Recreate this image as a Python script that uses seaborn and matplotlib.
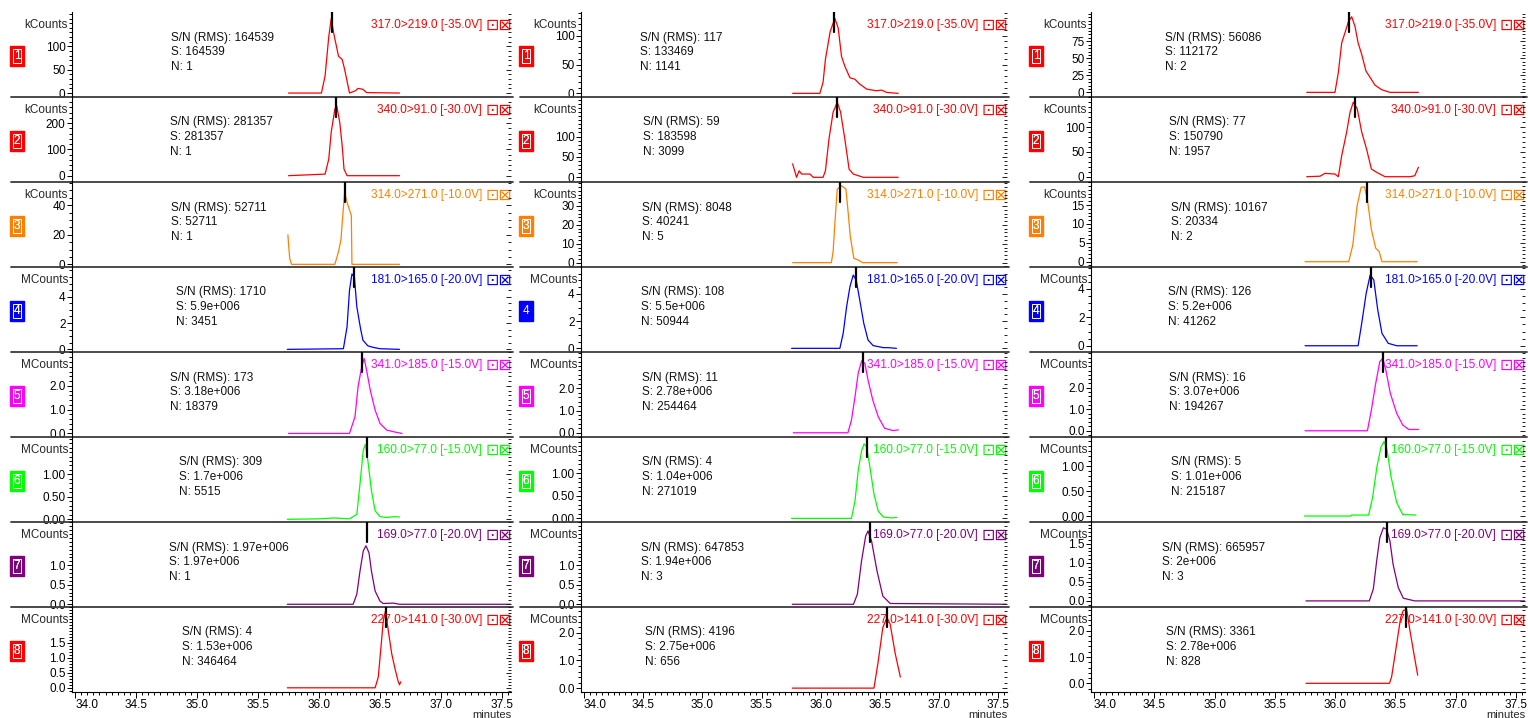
import matplotlib
matplotlib.use("Agg")
import matplotlib.pyplot as plt
import seaborn as sns
import numpy as np
from matplotlib.lines import Line2D
from matplotlib.ticker import AutoMinorLocator, MultipleLocator, FormatStrFormatter

sns.set_style("ticks")
plt.rcParams["font.family"] = ["Liberation Sans", "DejaVu Sans"]

# ---------------- data ----------------
CHANNELS = ["317.0>219.0 [-35.0V]", "340.0>91.0 [-30.0V]", "314.0>271.0 [-10.0V]",
            "181.0>165.0 [-20.0V]", "341.0>185.0 [-15.0V]", "160.0>77.0 [-15.0V]",
            "169.0>77.0 [-20.0V]", "227.0>141.0 [-30.0V]"]
UNITS = ["kCounts", "kCounts", "kCounts", "MCounts", "MCounts", "MCounts", "MCounts", "MCounts"]
COLORS = ["#FF0000", "#FF0000", "#FF8000", "#0000FF", "#FF00FF", "#00FF00", "#800080", "#FF0000"]

SN_1 = ["164539", "281357", "52711", "1710", "173", "309", "1.97e+006", "4"]
S_1 = ["164539", "281357", "52711", "5.9e+006", "3.18e+006", "1.7e+006", "1.97e+006", "1.53e+006"]
N_1 = ["1", "1", "1", "3451", "18379", "5515", "1", "346464"]
SN_2 = ["117", "59", "8048", "108", "11", "4", "647853", "4196"]
S_2 = ["133469", "183598", "40241", "5.5e+006", "2.78e+006", "1.04e+006", "1.94e+006", "2.75e+006"]
N_2 = ["1141", "3099", "5", "50944", "254464", "271019", "3", "656"]
SN_3 = ["56086", "77", "10167", "126", "16", "5", "665957", "3361"]
S_3 = ["112172", "150790", "20334", "5.2e+006", "3.07e+006", "1.01e+006", "2e+006", "2.78e+006"]
N_3 = ["2", "1957", "2", "41262", "194267", "215187", "3", "828"]

# peak apex markers (minutes)
PEAK_1 = [36.107, 36.14, 36.21, 36.287, 36.35, 36.39, 36.39, 36.55]
PEAK_2 = [36.11, 36.14, 36.16, 36.30, 36.36, 36.39, 36.415, 36.56]
PEAK_3 = [36.117, 36.164, 36.26, 36.30, 36.395, 36.423, 36.43, 36.585]

# y tick values / labels per column
YT_1 = [[0, 50, 100], [0, 100, 200], [0, 20, 40], [0, 2, 4], [0, 1, 2], [0, 0.5, 1], [0, 0.5, 1], [0, 0.5, 1, 1.5]]
YL_1 = [["0", "50", "100"], ["0", "100", "200"], ["0", "20", "40"], ["0", "2", "4"], ["0.0", "1.0", "2.0"],
        ["0.00", "0.50", "1.00"], ["0.0", "0.5", "1.0"], ["0.0", "0.5", "1.0", "1.5"]]
YT_2 = [[0, 50, 100], [0, 50, 100], [0, 10, 20, 30], [0, 2, 4], [0, 1, 2], [0, 0.5, 1], [0, 0.5, 1], [0, 1, 2]]
YL_2 = [["0", "50", "100"], ["0", "50", "100"], ["0", "10", "20", "30"], ["0", "2", "4"], ["0.0", "1.0", "2.0"],
        ["0.00", "0.50", "1.00"], ["0.0", "0.5", "1.0"], ["0.0", "1.0", "2.0"]]
YT_3 = [[0, 25, 50, 75], [0, 50, 100], [0, 5, 10, 15], [0, 2, 4], [0, 1, 2], [0, 0.5, 1], [0, 0.5, 1, 1.5], [0, 1, 2]]
YL_3 = [["0", "25", "50", "75"], ["0", "50", "100"], ["0", "5", "10", "15"], ["0", "2", "4"], ["0.0", "1.0", "2.0"],
        ["0.00", "0.50", "1.00"], ["0.0", "0.5", "1.0", "1.5"], ["0.0", "1.0", "2.0"]]
XTICKS = [34.0, 34.5, 35.0, 35.5, 36.0, 36.5, 37.0, 37.5]

# ---- traces, column 1 ----
t11 = [35.75, 36.02, 36.05, 36.08, 36.10, 36.12, 36.16, 36.19, 36.21, 36.25, 36.30, 36.32, 36.36, 36.39, 36.66]
v11 = [0, 0, 37, 121, 160, 129, 79, 72, 51, 0, 5, 10, 8, 1, 0]
t12 = [35.75, 36.05, 36.08, 36.10, 36.13, 36.145, 36.17, 36.19, 36.205, 36.23, 36.66]
v12 = [0, 6, 63, 165, 253, 266, 203, 114, 25, 0, 0]
t13 = [35.745, 35.75, 35.76, 35.775, 36.13, 36.16, 36.18, 36.19, 36.21, 36.23, 36.265, 36.27, 36.66]
v13 = [20, 14, 4, 0, 0, 8.6, 16.6, 28, 48.6, 41.8, 33, 0, 0]
t14 = [35.74, 36.20, 36.23, 36.25, 36.27, 36.29, 36.31, 36.34, 36.36, 36.40, 36.445, 36.50, 36.66]
v14 = [0, 0.05, 1.72, 4.5, 5.73, 5.5, 3.24, 1.6, 0.7, 0.27, 0.15, 0.05, 0]
t15 = [35.75, 36.25, 36.295, 36.32, 36.35, 36.37, 36.39, 36.42, 36.46, 36.50, 36.555, 36.62, 36.68]
v15 = [0, 0, 0.7, 1.96, 2.8, 3.15, 2.66, 1.82, 0.98, 0.42, 0.14, 0.06, 0]
t16 = [35.74, 36.00, 36.12, 36.25, 36.31, 36.336, 36.363, 36.38, 36.40, 36.43, 36.46, 36.50, 36.555, 36.62, 36.66]
v16 = [0, 0.01, 0.03, 0.01, 0.11, 0.79, 1.54, 1.67, 1.32, 0.64, 0.19, 0.06, 0.04, 0.06, 0.05]
t17 = [35.74, 36.28, 36.31, 36.336, 36.363, 36.385, 36.41, 36.43, 36.46, 36.50, 36.527, 36.61, 36.66, 37.57]
v17 = [0, 0, 0.26, 0.85, 1.37, 1.5, 1.32, 0.85, 0.34, 0.08, 0.02, 0.03, 0, 0]
t18 = [35.74, 36.46, 36.486, 36.508, 36.527, 36.545, 36.568, 36.596, 36.623, 36.65, 36.66, 36.67]
v18 = [0, 0, 0.36, 1.36, 2.24, 2.57, 1.91, 1.14, 0.64, 0.2, 0.1, 0.2]

# ---- traces, column 2 ----
t21 = [35.763, 35.993, 36.02, 36.04, 36.08, 36.12, 36.148, 36.176, 36.204, 36.247, 36.289, 36.33, 36.388,
       36.47, 36.514, 36.556, 36.655]
v21 = [0, 0, 19, 59, 107, 130, 113, 64, 47, 27, 24.5, 16, 7.4, 4.5, 5.7, 1.7, 0]
t22 = [35.763, 35.796, 35.818, 35.839, 35.909, 35.937, 36.02, 36.04, 36.07, 36.105, 36.14, 36.168, 36.204,
       36.24, 36.275, 36.36, 36.655]
v22 = [33, 0, 16, 8, 8, 0, 0, 16, 94, 160, 184, 160, 94, 20, 8, 0, 0]
t23 = [35.763, 36.09, 36.105, 36.12, 36.14, 36.176, 36.213, 36.23, 36.25, 36.28, 36.317, 36.354, 36.646]
v23 = [0, 0, 5.9, 21, 39, 40.7, 39, 28, 14, 2.3, 1.4, 0, 0]
t24 = [35.754, 36.162, 36.19, 36.219, 36.247, 36.275, 36.30, 36.33, 36.364, 36.40, 36.443, 36.53, 36.57, 36.64]
v24 = [0, 0, 1.1, 3.06, 4.53, 5.39, 5.02, 3.55, 1.84, 0.61, 0.2, 0.05, 0.05, 0]
t25 = [35.768, 36.23, 36.26, 36.29, 36.317, 36.346, 36.373, 36.40, 36.44, 36.486, 36.54, 36.61, 36.655]
v25 = [0, 0, 0.57, 1.62, 2.68, 3.23, 3.12, 2.37, 1.47, 0.72, 0.2, 0.1, 0.13]
t26 = [35.754, 36.26, 36.29, 36.317, 36.346, 36.367, 36.388, 36.416, 36.45, 36.486, 36.53, 36.60, 36.64]
v26 = [0, 0, 0.39, 1.06, 1.5, 1.65, 1.58, 1.13, 0.54, 0.16, 0.03, 0.01, 0.02]
t27 = [35.76, 36.277, 36.31, 36.345, 36.38, 36.40, 36.43, 36.476, 36.525, 36.587, 37.57]
v27 = [0, 0, 0.26, 1.11, 1.75, 1.88, 1.62, 0.85, 0.21, 0.02, 0]
t28 = [35.76, 36.45, 36.483, 36.525, 36.56, 36.587, 36.63, 36.673]
v28 = [0, 0, 0.88, 2.19, 2.55, 2.31, 1.24, 0.4]

# ---- traces, column 3 ----
t31 = [35.764, 35.998, 36.026, 36.054, 36.08, 36.11, 36.137, 36.164, 36.19, 36.22, 36.255, 36.29, 36.33,
       36.385, 36.454, 36.69]
v31 = [0, 0, 29, 72.7, 87, 104, 111, 97, 72.7, 55.7, 31.4, 21.8, 10.6, 3.9, 0, 0]
t32 = [35.764, 35.874, 35.915, 35.998, 36.026, 36.054, 36.095, 36.123, 36.15, 36.183, 36.22, 36.26, 36.30,
       36.344, 36.413, 36.62, 36.66, 36.69]
v32 = [0, 1, 6.7, 5.4, 0, 42.5, 90, 130, 150.6, 137, 90, 56, 15.6, 8.8, 0, 0, 2, 19]
t33 = [35.75, 36.112, 36.146, 36.181, 36.215, 36.243, 36.267, 36.30, 36.336, 36.364, 36.388, 36.68]
v33 = [0, 0, 4.4, 14.7, 19.7, 19.8, 16.5, 8.5, 3.6, 2.7, 0, 0]
t34 = [35.75, 36.19, 36.22, 36.257, 36.29, 36.32, 36.353, 36.388, 36.44, 36.51, 36.68]
v34 = [0, 0, 1.58, 3.69, 4.98, 4.63, 2.51, 0.87, 0.17, 0, 0]
t35 = [35.75, 36.267, 36.30, 36.336, 36.37, 36.395, 36.423, 36.457, 36.51, 36.56, 36.61, 36.69]
v35 = [0, 0, 0.96, 2.2, 3.21, 3.37, 2.74, 1.74, 0.81, 0.27, 0.06, 0.06]
t36 = [35.745, 36.13, 36.135, 36.277, 36.31, 36.346, 36.38, 36.405, 36.43, 36.464, 36.51, 36.56, 36.67]
v36 = [0, 0, 0.02, 0.02, 0.37, 0.99, 1.39, 1.5, 1.33, 0.78, 0.27, 0.03, 0.02]
t37 = [35.758, 36.283, 36.316, 36.344, 36.37, 36.40, 36.427, 36.454, 36.48, 36.523, 36.565, 36.66, 37.57]
v37 = [0, 0, 0.31, 1.05, 1.66, 1.92, 1.88, 1.57, 0.96, 0.35, 0.07, 0, 0]
t38 = [35.758, 36.45, 36.468, 36.51, 36.543, 36.565, 36.593, 36.62, 36.653, 36.684]
v38 = [0, 0, 0.25, 1.5, 2.5, 2.77, 2.8, 2.0, 1.12, 0.31]

# ---------------- layout ----------------
W, H = 1528, 718
PX = 0.72  # points per pixel at 100 dpi
COL_LEFT = [72, 581, 1091]
COL_WIDTH = [439, 426, 434]
ROW_TOP, ROW_H = 12, 85
XLIM = (33.975, 37.574)
YLIM_1 = [(-8.5, 174), (-24, 299), (-1.8, 55.7), (-0.2, 6.26), (-0.15, 3.42), (-0.06, 1.835), (-0.07, 2.11), (-0.14, 2.7)]
YLIM_2 = [(-6.3, 141), (-11.5, 197), (-2.3, 42.7), (-0.27, 5.98), (-0.19, 3.63), (-0.08, 1.80), (-0.07, 2.11), (-0.14, 2.93)]
YLIM_3 = [(-6.8, 118), (-10.7, 161), (-1.4, 21.1), (-0.44, 5.54), (-0.29, 3.66), (-0.12, 1.59), (-0.16, 2.07), (-0.33, 2.9)]
TXT_X_1 = [34.79, 34.78, 34.79, 34.83, 34.78, 34.85, 34.77, 34.88]
TXT_X_2 = [34.47, 34.495, 34.49, 34.48, 34.49, 34.49, 34.48, 34.515]
TXT_X_3 = [34.59, 34.625, 34.64, 34.61, 34.62, 34.64, 34.56, 34.597]

TRACES = [[(t11, v11), (t12, v12), (t13, v13), (t14, v14), (t15, v15), (t16, v16), (t17, v17), (t18, v18)],
          [(t21, v21), (t22, v22), (t23, v23), (t24, v24), (t25, v25), (t26, v26), (t27, v27), (t28, v28)],
          [(t31, v31), (t32, v32), (t33, v33), (t34, v34), (t35, v35), (t36, v36), (t37, v37), (t38, v38)]]
SNS = [SN_1, SN_2, SN_3]
SS = [S_1, S_2, S_3]
NS = [N_1, N_2, N_3]
PEAKS = [PEAK_1, PEAK_2, PEAK_3]
YTS = [YT_1, YT_2, YT_3]
YLS = [YL_1, YL_2, YL_3]
YLIMS = [YLIM_1, YLIM_2, YLIM_3]
TXT_X = [TXT_X_1, TXT_X_2, TXT_X_3]

FS = 8.5
fig = plt.figure(figsize=(W / 100, H / 100), dpi=100)

for c in range(3):
    cw = COL_WIDTH[c]
    for r in range(8):
        color = COLORS[r]
        bottom_px = ROW_TOP + ROW_H * (r + 1)
        ax = fig.add_axes([COL_LEFT[c] / W, 1 - bottom_px / H, cw / W, ROW_H / H])
        ax.set_facecolor("none")
        tt, vv = TRACES[c][r]
        sns.lineplot(x=np.array(tt), y=np.array(vv), ax=ax, color=color, linewidth=0.9,
                     estimator=None, sort=False, legend=False)
        ax.set_xlim(XLIM)
        ax.set_ylim(YLIMS[c][r])
        ax.set_xlabel("")
        ax.set_ylabel("")

        # y axis
        yt = YTS[c][r]
        ax.set_yticks(yt, labels=YLS[c][r])
        step = yt[1] - yt[0]
        nminor = 4 if step in (2, 20) else 5
        ax.yaxis.set_minor_locator(AutoMinorLocator(nminor))
        ax.tick_params(axis="y", which="major", direction="out", length=3.6, width=0.7,
                       pad=1.0, labelsize=FS, colors="black")
        ax.tick_params(axis="y", which="minor", direction="out", length=2.0, width=0.7, colors="black")

        # right-side inward ticks
        ax2 = ax.twinx()
        ax2.set_facecolor("none")
        ax2.set_ylim(YLIMS[c][r])
        ax2.set_yticks(yt)
        ax2.yaxis.set_minor_locator(AutoMinorLocator(nminor))
        ax2.tick_params(axis="y", which="major", direction="in", length=3.6, width=0.7,
                        labelright=False, colors="#202020")
        ax2.tick_params(axis="y", which="minor", direction="in", length=2.0, width=0.7, colors="#202020")
        for s in ax2.spines.values():
            s.set_visible(False)

        for s in ["top", "right"]:
            ax.spines[s].set_visible(False)
        ax.spines["left"].set_color("black")
        ax.spines["left"].set_linewidth(0.8)

        if r < 7:
            ax.spines["bottom"].set_visible(False)
            ax.tick_params(axis="x", which="both", bottom=False, labelbottom=False)
            ax.add_line(Line2D([-61 / cw, 1 + 1.5 / cw], [0, 0], transform=ax.transAxes,
                               color="#3c3c3c", lw=1.3, clip_on=False))
        else:
            ax.spines["bottom"].set_color("black")
            ax.spines["bottom"].set_linewidth(0.8)
            ax.set_xticks(XTICKS)
            ax.xaxis.set_major_formatter(FormatStrFormatter("%.1f"))
            ax.xaxis.set_minor_locator(MultipleLocator(0.05))
            ax.tick_params(axis="x", which="major", direction="out", length=4.5, width=0.7,
                           pad=0.3, labelsize=FS, colors="black")
            ax.tick_params(axis="x", which="minor", direction="out", length=2.5, width=0.7, colors="black")
            fig.canvas.draw()
            labs = ax.get_xticklabels()
            if labs:
                labs[0].set_horizontalalignment("left")
            ax.annotate("minutes", xy=(1, 0), xycoords="axes fraction", xytext=(0, -22.5 * PX),
                        textcoords="offset points", ha="right", va="center", fontsize=8.0)

        # unit label at top of y axis
        ax.annotate(UNITS[r], xy=(0, 1), xycoords="axes fraction", xytext=(-4 * PX, -13 * PX),
                    textcoords="offset points", ha="right", va="center", fontsize=FS)

        # channel number box
        ax.annotate(str(r + 1), xy=(0, 0.5), xycoords="axes fraction", xytext=(-55 * PX, -1.5 * PX),
                    textcoords="offset points", ha="center", va="center", color="white", fontsize=FS,
                    bbox=dict(boxstyle="square,pad=0.3", fc=color, ec=color, lw=1.0))
        if not (c == 1 and r == 3):
            ax.annotate(str(r + 1), xy=(0, 0.5), xycoords="axes fraction", xytext=(-55 * PX, -1.5 * PX),
                        textcoords="offset points", ha="center", va="center", color="white", fontsize=FS,
                        bbox=dict(boxstyle="square,pad=0.08", fc="none", ec="white", lw=0.7))

        # channel label and icon
        ax.annotate(CHANNELS[r], xy=(1, 1), xycoords="axes fraction", xytext=(-29 * PX, -13 * PX),
                    textcoords="offset points", ha="right", va="center", color=color, fontsize=8.6)
        ax.annotate("\u22a1\u22a0", xy=(1, 1), xycoords="axes fraction", xytext=(1 * PX, -13 * PX),
                    textcoords="offset points", ha="right", va="center", color=color, fontsize=11.5,
                    family="DejaVu Sans")

        # S/N block
        ax.annotate(f"S/N (RMS): {SNS[c][r]}\nS: {SS[c][r]}\nN: {NS[c][r]}",
                    xy=(TXT_X[c][r], 1), xycoords=("data", "axes fraction"), xytext=(0, -19.5 * PX),
                    textcoords="offset points", ha="left", va="top", fontsize=FS,
                    linespacing=1.3, color="#111111")

        # peak apex marker
        ax.axvline(PEAKS[c][r], ymin=1 - 20 / ROW_H, ymax=1, color="black", lw=1.6)

fig.savefig("out.png", dpi=100)
